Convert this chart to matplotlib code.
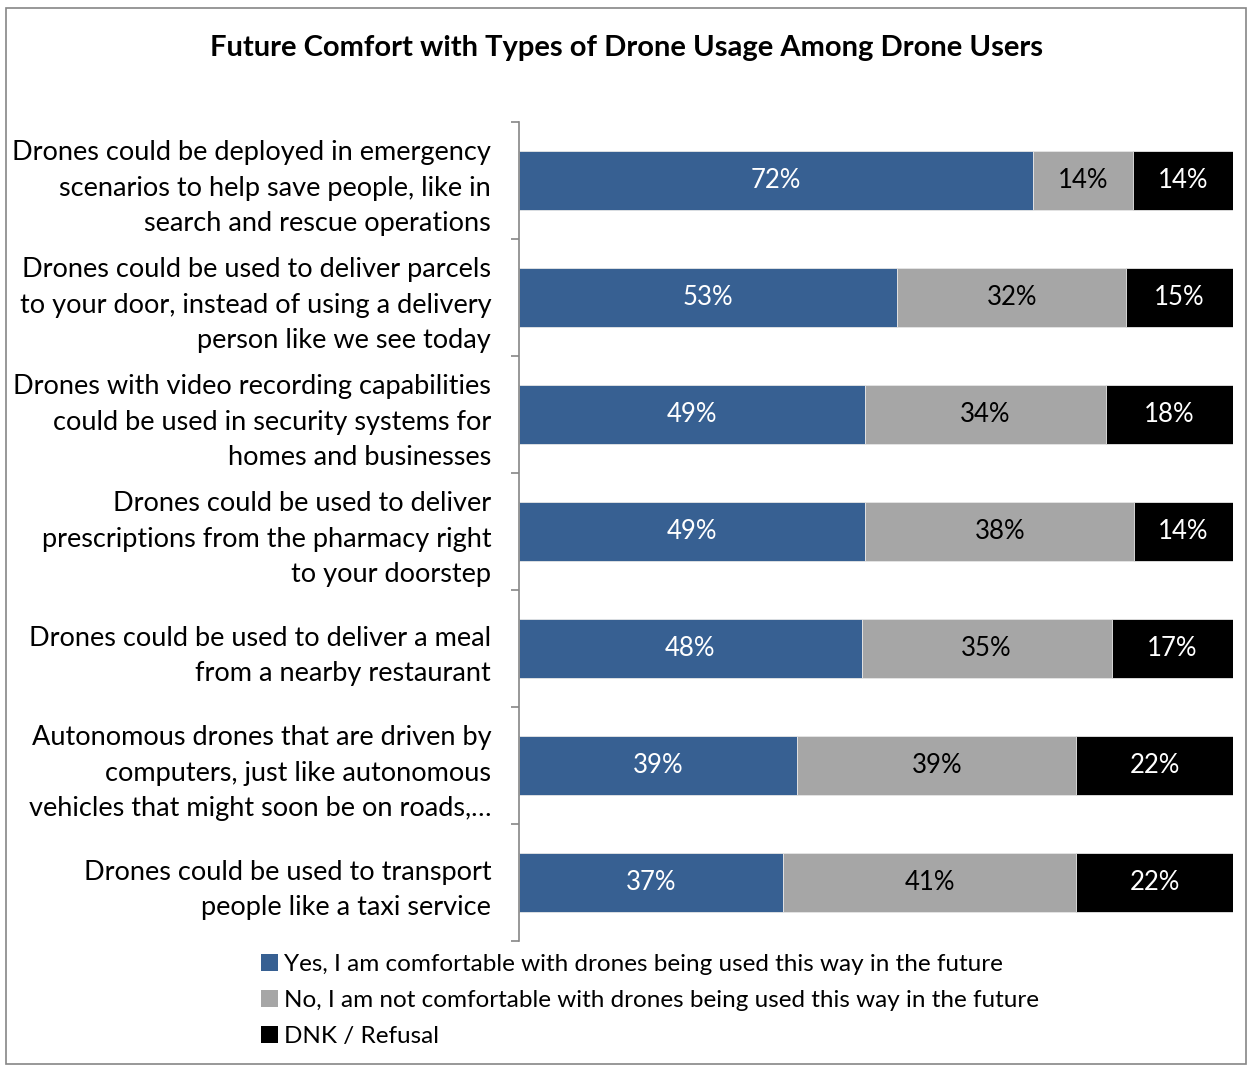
import matplotlib.pyplot as plt
from matplotlib.patches import Patch, Rectangle

plt.rcParams['font.family'] = ['Lato', 'DejaVu Sans']

title = "Future Comfort with Types of Drone Usage Among Drone Users"

categories = [
    "Drones could be deployed in emergency\nscenarios to help save people, like in\nsearch and rescue operations",
    "Drones could be used to deliver parcels\nto your door, instead of using a delivery\nperson like we see today",
    "Drones with video recording capabilities\ncould be used in security systems for\nhomes and businesses",
    "Drones could be used to deliver\nprescriptions from the pharmacy right\nto your doorstep",
    "Drones could be used to deliver a meal\nfrom a nearby restaurant",
    "Autonomous drones that are driven by\ncomputers, just like autonomous\nvehicles that might soon be on roads,\u2026",
    "Drones could be used to transport\npeople like a taxi service",
]
yes_pct = [72, 53, 49, 49, 48, 39, 37]
no_pct = [14, 32, 34, 38, 35, 39, 41]
dnk_pct = [14, 15, 18, 14, 17, 22, 22]

series_names = [
    "Yes, I am comfortable with drones being used this way in the future",
    "No, I am not comfortable with drones being used this way in the future",
    "DNK / Refusal",
]
colors = ["#376092", "#A6A6A6", "#000000"]
text_colors = ["white", "black", "white"]

fig = plt.figure(figsize=(12.48, 10.66), dpi=100)
ax = fig.add_axes([519 / 1248, 1 - 941 / 1066, (1233 - 519) / 1248, (941 - 122) / 1066])

# outer chart frame
fig.patches.append(Rectangle((6 / 1248, 2 / 1066), 1240 / 1248, 1056 / 1066,
                             transform=fig.transFigure, fill=False,
                             edgecolor="#868686", linewidth=1.2))

fig.text(627 / 1248, 1 - 48 / 1066, title, ha="center", va="center",
         fontsize=21, fontweight="bold")

# 100% stacked bars: each row scaled to its own total
series = [yes_pct, no_pct, dnk_pct]
rows = range(len(categories))
left = [0.0] * len(categories)
for vals, color, tcolor in zip(series, colors, text_colors):
    shares = []
    for i in rows:
        total = yes_pct[i] + no_pct[i] + dnk_pct[i]
        shares.append(vals[i] / total)
    ax.barh(list(rows), shares, left=left, height=0.5, color=color,
            edgecolor="#e6e6e6", linewidth=0.6)
    for i in rows:
        ax.text(left[i] + shares[i] / 2, i, f"{vals[i]}%", ha="center",
                va="center", color=tcolor, fontsize=18.5)
    left = [l + s for l, s in zip(left, shares)]

ax.set_xlim(0, 1)
ax.set_ylim(len(categories) - 0.5, -0.5)
ax.set_xticks([])
ax.set_yticks(list(rows))
ax.set_yticklabels(categories, fontsize=19.5, linespacing=1.52)
ax.set_yticks([i - 0.5 for i in range(len(categories) + 1)], minor=True)
ax.tick_params(axis="y", which="major", length=0, pad=20)
ax.tick_params(axis="y", which="minor", length=6, width=1.2,
               color="#868686", direction="out")
for side in ["top", "right", "bottom"]:
    ax.spines[side].set_visible(False)
ax.spines["left"].set_color("#868686")
ax.spines["left"].set_linewidth(1.2)

handles = [Patch(facecolor=c) for c in colors]
fig.legend(handles, series_names, loc="upper left",
           bbox_to_anchor=(251 / 1248, 1 - 944 / 1066), frameon=False,
           fontsize=17.5, handlelength=0.7, handleheight=0.7,
           handletextpad=0.25, labelspacing=0.63, borderaxespad=0)

fig.savefig("out.png", dpi=100)
